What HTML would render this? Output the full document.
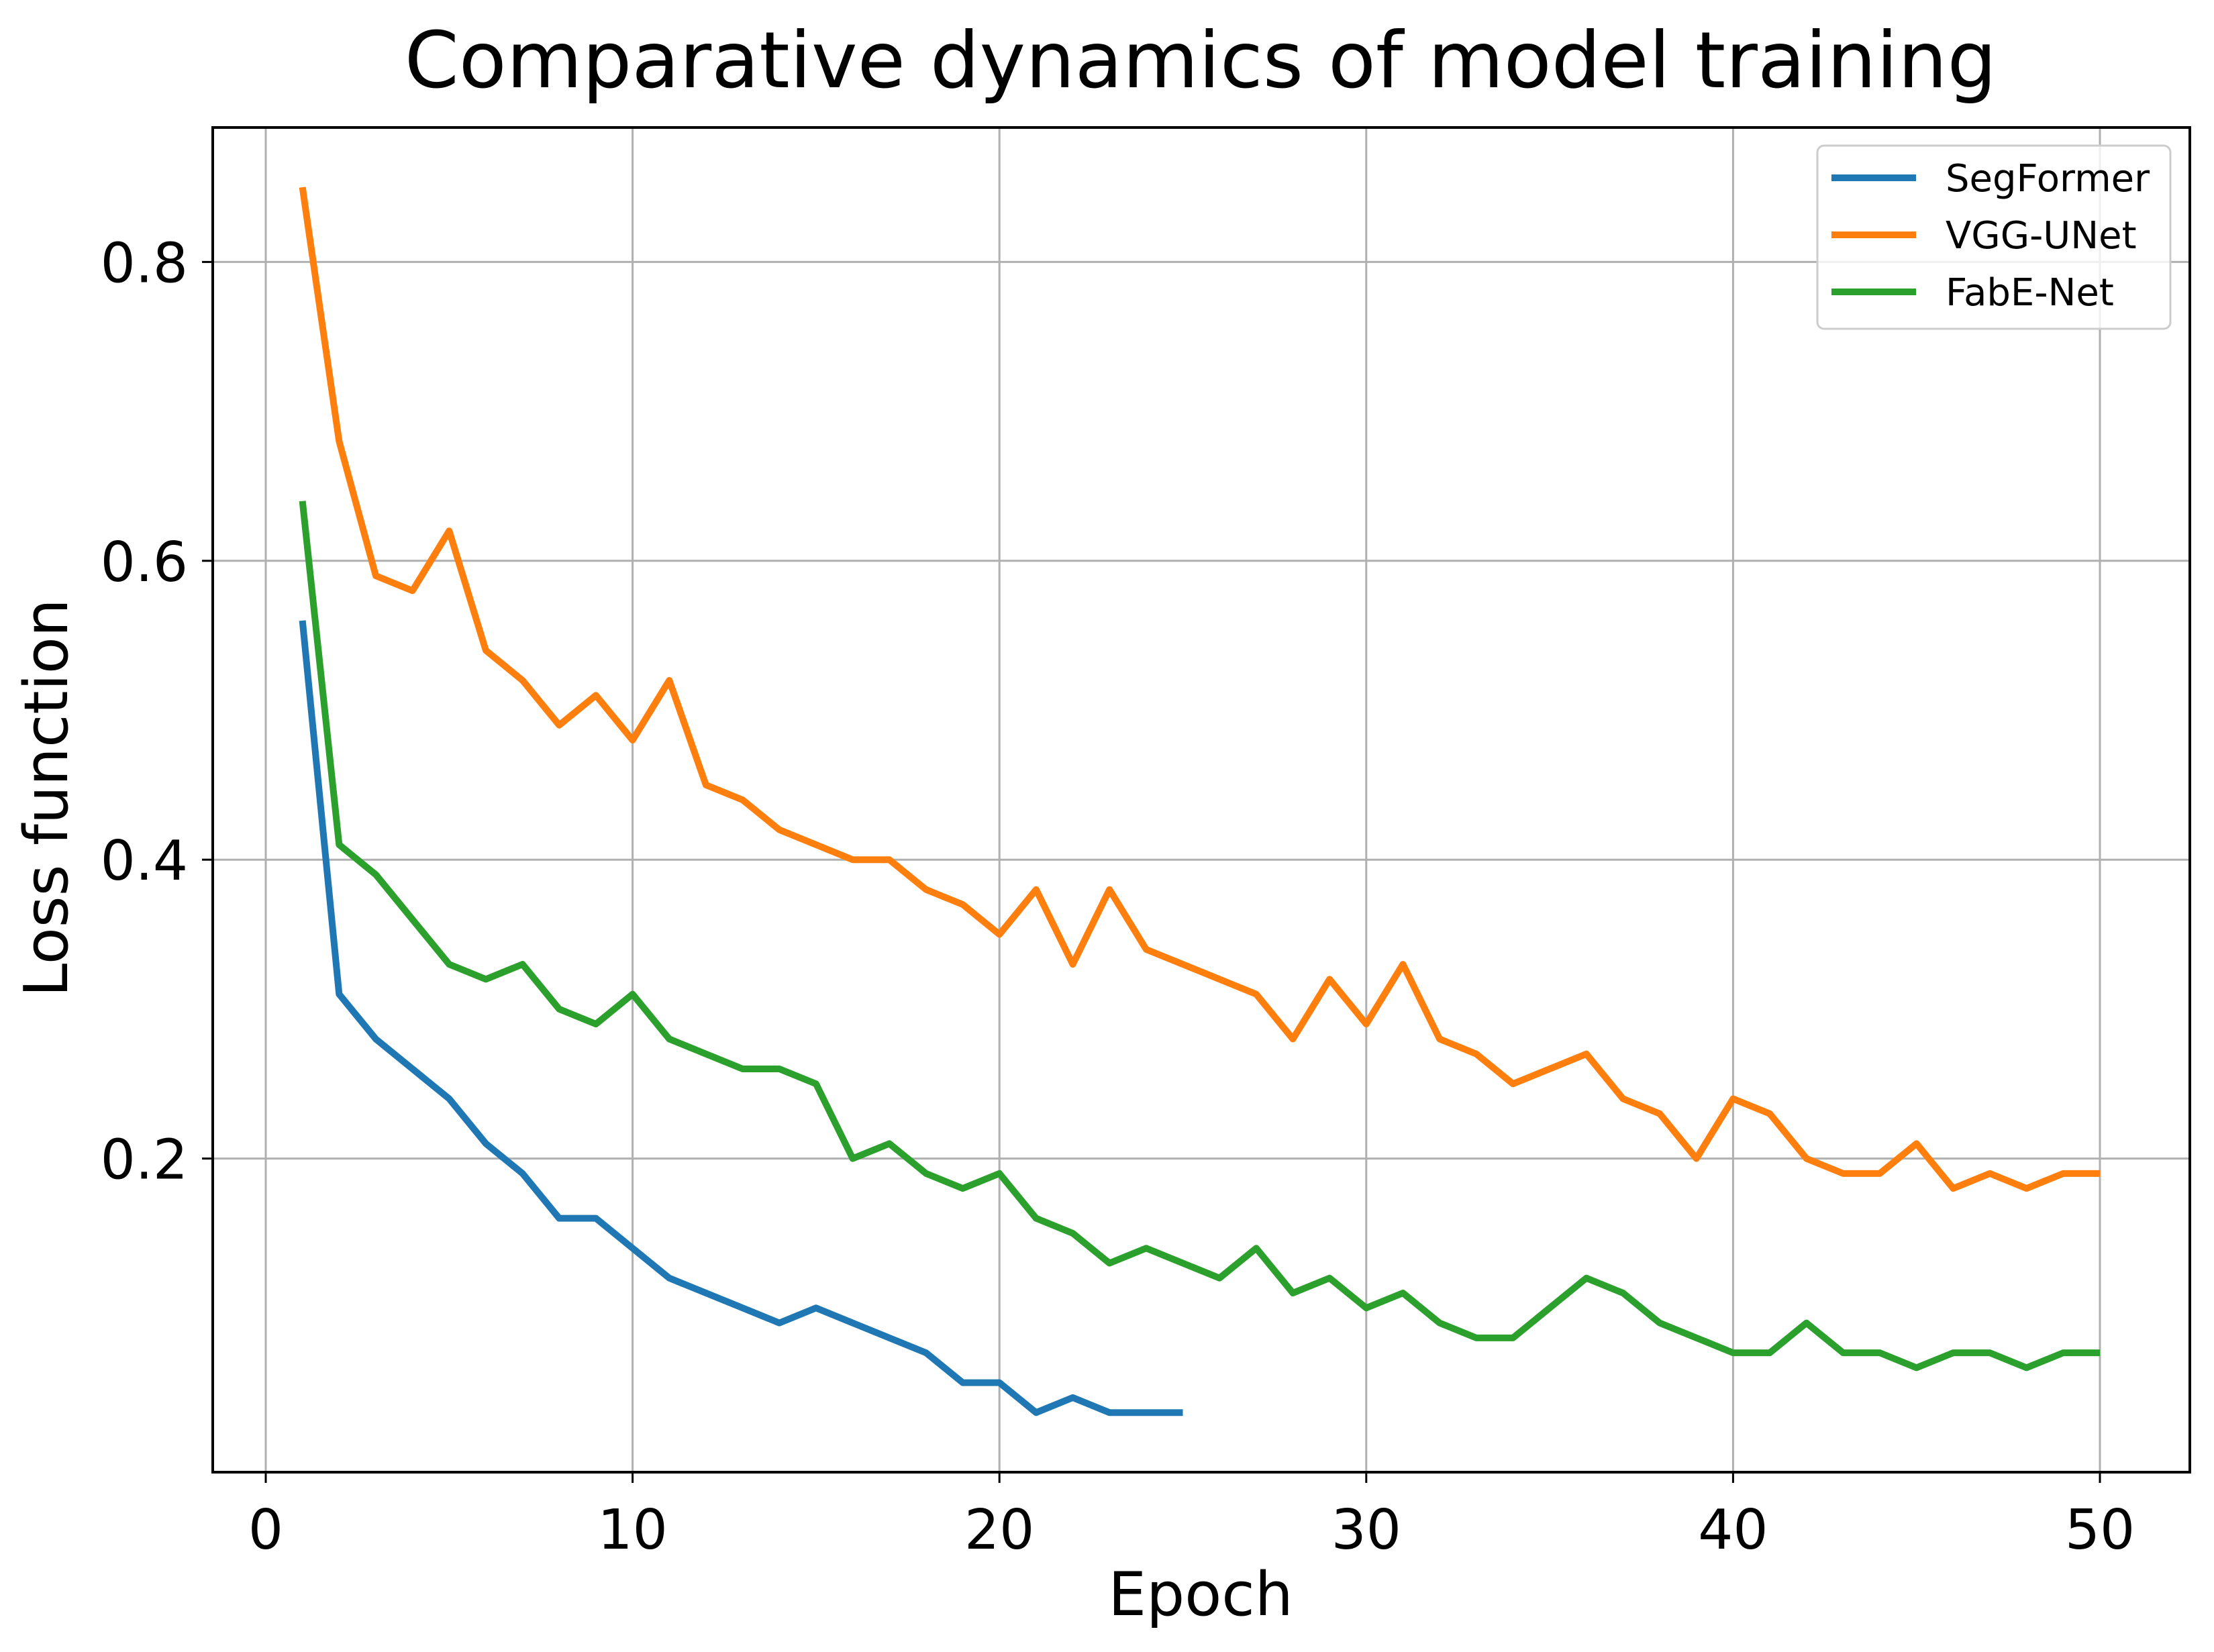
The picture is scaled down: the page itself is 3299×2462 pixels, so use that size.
<!DOCTYPE html>
<html><head><meta charset="utf-8"><style>
body{margin:0;background:#fff}
svg{display:block;font-family:"DejaVu Sans","Liberation Sans",sans-serif}
</style></head><body>
<svg id="chart" width="3299" height="2462" viewBox="0 0 3299 2462" xmlns="http://www.w3.org/2000/svg">
<rect width="3299" height="2462" fill="#fff"/>
<text x="1789" y="130" font-size="116" text-anchor="middle" fill="#000">Comparative dynamics of model training</text>
<g id="grid"></g><g id="series"></g>
<rect x="317" y="190" width="2946" height="2004" fill="none" stroke="#000" stroke-width="4"/>
<g id="ticks"></g>
<text x="1789" y="2407" font-size="90" text-anchor="middle">Epoch</text>
<text x="0" y="0" font-size="90" text-anchor="middle" transform="translate(100,1189) rotate(-90)">Loss function</text>
<g>
<rect x="2708" y="217" width="526" height="273" rx="10" fill="#fff" fill-opacity="0.8" stroke="#ccc" stroke-width="3"/>
<g id="legend-items"></g>
</g>
</svg>
<script>
const segformer=[0.56,0.31,0.28,0.26,0.24,0.21,0.19,0.16,0.16,0.14,0.12,0.11,0.10,0.09,0.10,0.09,0.08,0.07,0.05,0.05,0.03,0.04,0.03,0.03,0.03];
const vggunet=[0.85,0.68,0.59,0.58,0.62,0.54,0.52,0.49,0.51,0.48,0.52,0.45,0.44,0.42,0.41,0.40,0.40,0.38,0.37,0.35,0.38,0.33,0.38,0.34,0.33,0.32,0.31,0.28,0.32,0.29,0.33,0.28,0.27,0.25,0.26,0.27,0.24,0.23,0.20,0.24,0.23,0.20,0.19,0.19,0.21,0.18,0.19,0.18,0.19,0.19];
const fabenet=[0.64,0.41,0.39,0.36,0.33,0.32,0.33,0.30,0.29,0.31,0.28,0.27,0.26,0.26,0.25,0.20,0.21,0.19,0.18,0.19,0.16,0.15,0.13,0.14,0.13,0.12,0.14,0.11,0.12,0.10,0.11,0.09,0.08,0.08,0.10,0.12,0.11,0.09,0.08,0.07,0.07,0.09,0.07,0.07,0.06,0.07,0.07,0.06,0.07,0.07];
const xTicks=[0,10,20,30,40,50];
const yTicks=[0.2,0.4,0.6,0.8];
const seriesNames=["SegFormer","VGG-UNet","FabE-Net"];
const NS="http://www.w3.org/2000/svg";
const X=v=>396+v*54.66, Y=v=>2172-v*2227;
function mk(tag,attrs,parent){const e=document.createElementNS(NS,tag);for(const k in attrs)e.setAttribute(k,attrs[k]);parent.appendChild(e);return e;}
const grid=document.getElementById('grid'),ticks=document.getElementById('ticks'),ser=document.getElementById('series'),leg=document.getElementById('legend-items');
xTicks.forEach(t=>{
 const g=mk('line',{x1:X(t),x2:X(t),y1:190,y2:2194,stroke:'#b0b0b0','stroke-width':3},grid);
 
 
 const tk=mk('line',{x1:X(t),x2:X(t),y1:2194,y2:2210,stroke:'#000','stroke-width':3},ticks);
 
 
 const tx=mk('text',{x:X(t),y:2308,'font-size':82,'text-anchor':'middle'},ticks);tx.textContent=t;
 
 
});
yTicks.forEach(t=>{
 const g=mk('line',{x1:317,x2:3263,y1:Y(t),y2:Y(t),stroke:'#b0b0b0','stroke-width':3},grid);
 
 
 const tk=mk('line',{x1:301,x2:317,y1:Y(t),y2:Y(t),stroke:'#000','stroke-width':3},ticks);
 
 
 const tx=mk('text',{x:280,y:Y(t)+30,'font-size':82,'text-anchor':'end'},ticks);tx.textContent=t.toFixed(1);
 
 
});
const data=[segformer,vggunet,fabenet],colors=['#1f77b4','#ff7f0e','#2ca02c'],names=['segformer-line','vgg-unet-line','fabe-net-line'];
data.forEach((d,i)=>{
 const p=mk('polyline',{points:d.map((v,j)=>X(j+1)+','+Y(v)).join(' '),fill:'none',stroke:colors[i],'stroke-width':10,'stroke-linejoin':'round'},ser);
 
 
 const y=265+i*85;
 const l=mk('line',{x1:2729,x2:2855,y1:y,y2:y,stroke:colors[i],'stroke-width':10},leg);
 
 
 const t=mk('text',{x:2899,y:y+20,'font-size':56},leg);t.textContent=seriesNames[i];
 
 
});
</script>
</body></html>
